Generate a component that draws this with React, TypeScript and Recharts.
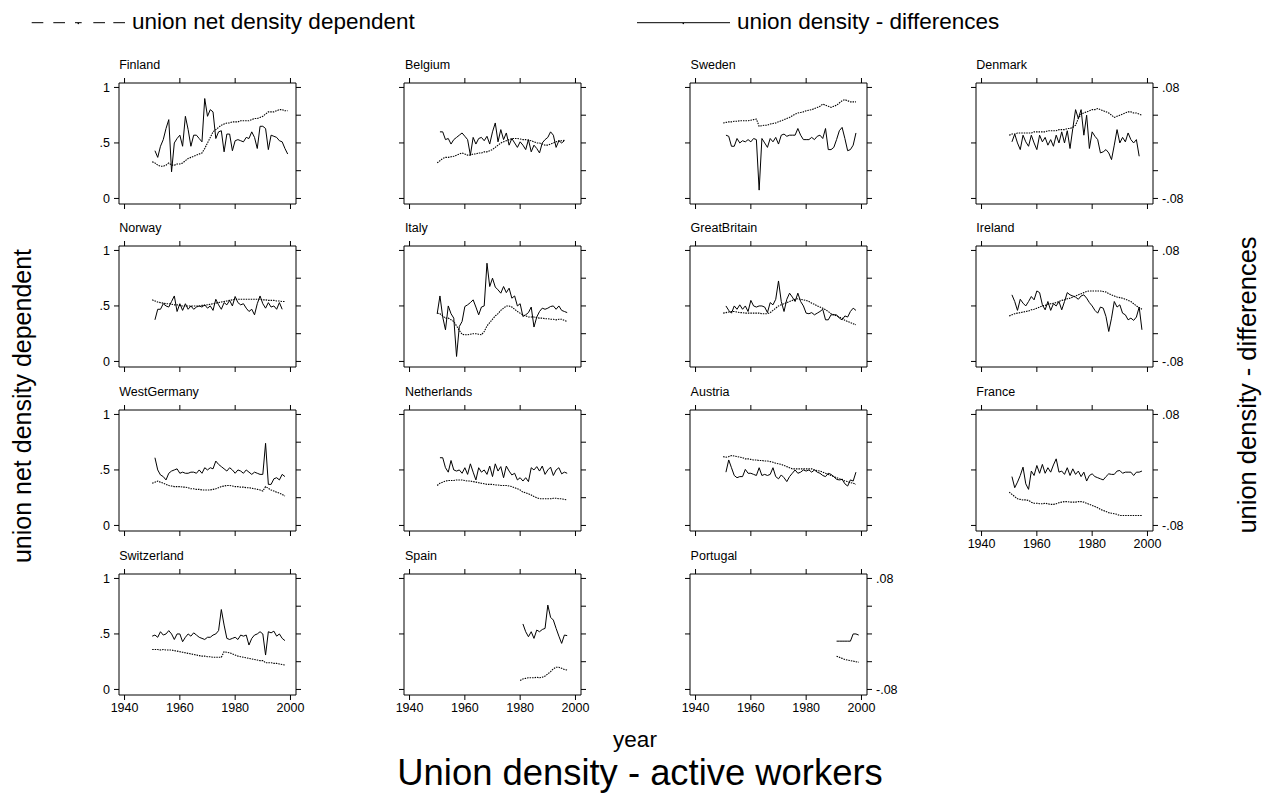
import React from 'react';
import { LineChart, Line, XAxis, YAxis } from 'recharts';

const FONT = '"Liberation Sans", Arial, Helvetica, sans-serif';

const yearTicks = [1940, 1960, 1980, 2000];
const depTicks = [0, 0.5, 1];
const diffTicks = [-0.08, -0.04, 0, 0.04, 0.08];

// union net density dependent (left axis) and union density - differences (right axis)
const finlandDep = [.33,.32,.30,.29,.29,.30,.32,.30,.30,.31,.31,.32,.34,.36,.37,.38,.39,.40,.41,.45,.50,.55,.60,.62,.64,.66,.67,.68,.68,.69,.69,.69,.70,.70,.70,.70,.71,.72,.72,.73,.74,.76,.78,.78,.78,.79,.80,.80,.79,.79];
const finlandDiff = [-.0112,-.0208,-.0048,.0048,.0208,.0336,-.0416,0,.0064,.0112,-.0048,.0384,.0192,-.0048,.0112,.0112,.0064,.0016,.064,.0384,.048,.0448,.0064,.016,.0176,-.0128,.0128,.0128,-.0112,.0032,.0048,.0032,.0016,.008,.0064,.016,.008,-.008,.024,.024,.0208,-.0096,.0112,.0096,.008,.0032,.0016,-.008,-.016];

const belgiumDep = [.32,.34,.36,.37,.37,.375,.38,.39,.40,.41,.40,.39,.39,.40,.40,.41,.41,.42,.42,.43,.44,.46,.48,.50,.51,.52,.53,.54,.54,.54,.535,.53,.53,.525,.52,.51,.50,.50,.49,.48,.48,.49,.50,.51,.52,.52,.525];
const belgiumDiff = [.016,.016,.0048,.0064,-.0016,.0048,.008,.0112,.0144,.0096,.0048,-.0176,.008,-.0016,.0064,.008,.0032,.0096,-.0016,.016,.0288,.0016,.0192,.0048,.0144,-.0032,.0064,0,-.0064,.0016,-.0032,-.0096,.0048,-.0128,-.0032,-.008,-.0144,0,.0048,.008,.016,.0112,-.0064,.0032,0,.0032];

const swedenDep = [.68,.685,.69,.69,.695,.695,.70,.70,.70,.70,.705,.71,.715,.65,.655,.66,.66,.67,.675,.68,.69,.70,.71,.72,.73,.745,.76,.77,.775,.78,.79,.795,.80,.81,.82,.83,.85,.84,.83,.82,.83,.84,.86,.88,.89,.88,.87,.87,.87];
const swedenDiff = [.0112,.0096,-.0048,-.0048,.0064,0,.0032,.0016,.0048,.0016,.0064,.0048,-.068,.0064,0,-.0064,.0064,.0016,.008,-.0016,.0112,.0128,.0096,.0112,.0112,.0112,.0208,.0112,.0048,.0048,.0048,.008,.0048,.0096,.0112,.0064,.0208,-.0096,-.0096,-.0064,.0048,.0176,.0224,.0064,-.0112,-.0096,-.0032,.0144];

const denmarkDep = [.57,.58,.58,.59,.59,.59,.59,.59,.59,.60,.60,.60,.60,.60,.61,.61,.61,.61,.62,.62,.62,.63,.63,.64,.66,.72,.76,.77,.78,.79,.80,.80,.81,.80,.79,.78,.77,.75,.73,.74,.75,.76,.77,.78,.78,.77,.77,.76,.75];
const denmarkDiff = [.0016,.0128,0,-.0096,.0112,.0016,-.0048,.0112,0,-.0096,.0112,.0016,.008,-.0032,.0048,-.0048,.0112,0,.016,0,.0176,-.008,.0208,.048,.0352,.048,.0112,.04,-.008,.016,.0096,.0048,-.0144,-.0128,-.0096,-.0144,-.024,-.0032,.0192,0,.008,.0016,.0144,.0048,0,.0048,-.0192];

const norwayDep = [.555,.545,.535,.53,.525,.52,.52,.515,.51,.51,.505,.50,.50,.50,.50,.50,.50,.50,.505,.505,.51,.515,.52,.525,.53,.535,.54,.545,.55,.555,.56,.56,.56,.56,.56,.56,.56,.56,.56,.56,.555,.555,.55,.55,.55,.545,.545,.54,.54];
const norwayDiff = [-.02,-.0048,-.0048,.0032,0,-.0016,.0064,.0144,-.008,.0032,-.0064,.0032,-.0048,0,-.0048,-.0016,0,-.0016,.0016,-.0032,0,-.0064,.0096,.0016,-.0048,.0048,.0016,.008,0,.0136,.0048,.0016,.0032,-.0032,-.008,-.0048,-.0128,.0032,.0144,.0032,-.0032,.0048,-.0016,0,-.0048,.0048,-.0048];

const italyDep = [.435,.43,.41,.39,.39,.375,.36,.32,.28,.245,.24,.24,.245,.25,.25,.245,.24,.27,.32,.35,.38,.41,.43,.46,.48,.50,.50,.49,.47,.45,.435,.42,.41,.40,.40,.40,.395,.39,.39,.385,.385,.38,.38,.375,.38,.38,.37,.36];
const italyDiff = [-.0112,.0144,-.016,-.0344,0,-.0112,-.0176,-.0728,-.0296,-.0224,-.0008,.0016,.0048,.0088,-.0016,-.0128,-.0016,0,.0616,.028,.04,.0272,.0232,.0184,.028,.0192,.0256,.0112,.0144,0,.0032,-.0152,-.0128,-.0096,-.0016,-.0304,-.016,-.008,-.0032,-.0048,-.0032,-.0008,0,-.0048,0,-.0064,-.008,-.0096];

const britainDep = [.435,.44,.445,.45,.45,.445,.44,.44,.435,.435,.435,.435,.435,.435,.43,.43,.43,.44,.46,.48,.50,.51,.52,.53,.54,.55,.56,.565,.56,.555,.55,.54,.525,.515,.50,.49,.48,.465,.45,.43,.42,.41,.40,.39,.37,.36,.35,.34,.33];
const britainDiff = [0,-.0064,-.0104,0,-.0048,.0016,-.0048,0,-.008,.008,0,-.0016,0,0,-.0016,-.0096,.0048,.0016,.0096,.036,.0064,-.008,.0096,.0184,.0128,.0064,.0184,.0064,0,-.0104,-.0112,-.0096,-.0128,-.0104,-.008,-.0048,-.02,-.02,-.0128,-.0128,-.0128,-.0176,-.02,-.0144,-.016,-.008,-.0032,-.0064];

const irelandDep = [.41,.42,.43,.435,.44,.445,.45,.455,.465,.47,.48,.49,.50,.505,.515,.52,.525,.53,.54,.55,.555,.565,.57,.58,.59,.60,.61,.62,.63,.635,.635,.635,.635,.635,.63,.625,.61,.60,.59,.58,.575,.57,.56,.55,.54,.52,.50,.485,.47];
const irelandDiff = [.016,.0064,-.0064,.0096,.004,0,.0064,.0136,.0088,.0216,.0192,.0016,-.0056,.0064,-.0064,.0032,0,.0064,-.0056,.0064,.0192,.016,.0144,.0128,.0096,.0144,.016,.0112,.0048,0,-.0064,-.0104,-.0016,-.0032,-.0152,-.0368,-.0176,.0064,-.0016,.0016,-.0104,-.0128,-.02,-.0176,-.0208,-.016,-.0016,-.0344];

const germanyDep = [.38,.39,.40,.39,.38,.37,.36,.355,.35,.35,.35,.345,.345,.34,.33,.33,.325,.325,.32,.32,.32,.32,.325,.33,.34,.35,.355,.36,.36,.355,.35,.35,.345,.345,.34,.34,.335,.33,.325,.32,.31,.35,.335,.32,.31,.30,.29,.28,.265];
const germanyDiff = [.0176,0,-.0072,-.0096,-.0144,-.0048,-.0016,0,.0016,-.0048,-.0032,-.0048,-.0048,-.0032,-.0032,-.0048,0,-.0048,.0032,0,.0032,.0016,.0128,.008,.0048,.0016,-.0016,.0032,0,-.0048,0,-.0016,-.0048,0,-.0032,-.0064,-.0032,-.0048,-.0064,-.0064,.0384,-.0208,-.0208,-.0128,-.0112,-.0144,-.0064,-.0096];

const netherlandsDep = [.36,.38,.39,.40,.405,.405,.405,.41,.41,.41,.405,.40,.40,.395,.39,.385,.38,.375,.37,.37,.37,.365,.365,.36,.36,.36,.355,.35,.34,.33,.32,.30,.295,.285,.275,.26,.25,.24,.24,.24,.24,.24,.245,.245,.24,.24,.235,.23];
const netherlandsDiff = [.0176,.0176,.0032,-.0032,.0136,0,-.0016,0,-.0048,.0032,-.0064,.0088,-.0032,-.0144,.0032,-.0032,0,-.0064,.0056,-.0096,.0088,-.0016,.0048,-.0112,.0056,-.0016,-.0072,-.0048,-.0144,-.0112,-.016,-.0112,-.0168,.0032,0,.0048,-.0016,.0056,-.0064,0,.004,-.008,0,.0032,-.0056,-.0032,-.0048];

const austriaDep = [.62,.615,.62,.63,.625,.62,.615,.61,.60,.60,.595,.59,.59,.585,.585,.58,.58,.575,.57,.56,.555,.55,.54,.53,.52,.51,.51,.51,.51,.51,.51,.51,.51,.50,.495,.49,.48,.47,.46,.45,.44,.43,.42,.415,.40,.395,.385,.38,.37];
const austriaDiff = [-.0032,.0144,.0032,-.008,-.0112,-.0096,-.0096,.0008,-.0048,-.0048,-.0064,-.008,.0032,-.008,-.0064,-.008,-.0064,.0032,-.0096,-.0128,-.0072,-.0112,-.0168,-.0096,-.0048,0,-.0048,-.0032,0,-.0016,0,-.0032,0,-.0032,-.0048,-.008,-.0096,-.0048,-.0064,-.0096,-.0136,-.0144,-.0136,-.02,-.0232,-.0144,-.016,-.0032];

const franceDep = [.30,.28,.26,.24,.235,.23,.23,.225,.21,.20,.20,.195,.195,.20,.195,.19,.19,.195,.205,.21,.215,.215,.21,.21,.21,.215,.215,.21,.20,.19,.18,.17,.16,.145,.135,.125,.115,.11,.105,.10,.09,.09,.09,.09,.09,.09,.09,.09,.09];
const franceDiff = [-.0096,-.0256,-.0176,-.008,.004,-.02,-.028,-.0016,-.008,.0064,-.0048,.008,-.0048,.0032,-.0032,.0072,.016,-.0032,-.0016,-.0064,.0032,-.008,.0016,-.0064,-.0016,-.0096,-.0032,-.016,-.008,-.0056,-.0096,-.0112,-.0128,-.0144,-.0096,-.0056,-.0064,-.0064,-.0016,-.0008,-.0048,-.0032,-.0032,-.0032,-.008,-.0032,-.0032,-.0016];

const switzerlandDep = [.36,.36,.36,.355,.36,.355,.355,.355,.35,.345,.34,.335,.33,.325,.32,.315,.31,.305,.30,.30,.295,.295,.29,.29,.29,.29,.34,.335,.33,.32,.31,.30,.295,.29,.285,.28,.275,.27,.265,.26,.26,.24,.24,.24,.235,.235,.23,.225,.22];
const switzerlandDiff = [-.0032,-.0016,-.0048,.0032,-.0016,0,.0048,0,-.008,0,0,-.0112,-.0048,0,-.0032,.0016,-.0016,-.0048,-.0064,-.008,-.0048,-.0048,-.0016,0,.0048,.0352,.0128,-.0064,-.008,-.0064,-.0048,-.008,-.0016,-.0032,-.0016,-.016,-.0064,-.0016,0,.0032,0,-.0304,.0032,.0016,.004,-.0032,0,-.0064,-.0096];

const spainDep = [.08,.095,.10,.105,.105,.105,.11,.105,.11,.12,.14,.16,.185,.20,.20,.19,.18,.175];
const spainDiff = [.0144,.0032,-.004,.0032,-.0064,.0056,.0032,.0064,.008,.0416,.024,.02,.008,-.0032,-.0136,-.0016,-.0024];

const portugalDep = [.30,.29,.28,.27,.265,.26,.255,.25,.245];
const portugalDiff = [-.0104,-.0104,-.0104,-.0104,-.0104,-.0104,0,0,-.0016];

const panels = [
  { name: 'Finland', depStart: 1950, dep: finlandDep, diffStart: 1951, diff: finlandDiff },
  { name: 'Belgium', depStart: 1950, dep: belgiumDep, diffStart: 1951, diff: belgiumDiff },
  { name: 'Sweden', depStart: 1950, dep: swedenDep, diffStart: 1951, diff: swedenDiff },
  { name: 'Denmark', depStart: 1950, dep: denmarkDep, diffStart: 1951, diff: denmarkDiff },
  { name: 'Norway', depStart: 1950, dep: norwayDep, diffStart: 1951, diff: norwayDiff },
  { name: 'Italy', depStart: 1950, dep: italyDep, diffStart: 1950, diff: italyDiff },
  { name: 'GreatBritain', depStart: 1950, dep: britainDep, diffStart: 1951, diff: britainDiff },
  { name: 'Ireland', depStart: 1950, dep: irelandDep, diffStart: 1951, diff: irelandDiff },
  { name: 'WestGermany', depStart: 1950, dep: germanyDep, diffStart: 1951, diff: germanyDiff },
  { name: 'Netherlands', depStart: 1950, dep: netherlandsDep, diffStart: 1951, diff: netherlandsDiff },
  { name: 'Austria', depStart: 1950, dep: austriaDep, diffStart: 1951, diff: austriaDiff },
  { name: 'France', depStart: 1950, dep: franceDep, diffStart: 1951, diff: franceDiff },
  { name: 'Switzerland', depStart: 1950, dep: switzerlandDep, diffStart: 1950, diff: switzerlandDiff },
  { name: 'Spain', depStart: 1980, dep: spainDep, diffStart: 1981, diff: spainDiff },
  { name: 'Portugal', depStart: 1991, dep: portugalDep, diffStart: 1991, diff: portugalDiff },
];

type PanelDef = typeof panels[number];

function buildRows(p: PanelDef) {
  const rows: Record<number, any> = {};
  p.dep.forEach((v, i) => {
    const year = p.depStart + i;
    rows[year] = { ...(rows[year] || { year }), dep: v };
  });
  p.diff.forEach((v, i) => {
    const year = p.diffStart + i;
    rows[year] = { ...(rows[year] || { year }), diff: v };
  });
  return Object.values(rows).sort((a: any, b: any) => a.year - b.year);
}

const tickStyle = { fontSize: 12.5, fill: '#000', fontFamily: FONT };
const black = { stroke: '#000', strokeWidth: 1 };

function Panel({ p, index }: { p: PanelDef; index: number }) {
  const row = Math.floor(index / 4);
  const col = index % 4;
  const boxLeft = 118.7 + col * 285.7;
  const boxTop = 82.7 + row * 163.7;
  const showLeft = col === 0;
  const showBottom = index + 4 >= panels.length;
  const showRight = col === 3 || index === panels.length - 1;
  const data = buildRows(p);

  return (
    <>
      <div
        style={{
          position: 'absolute',
          left: boxLeft + 0.5,
          top: boxTop - 25,
          fontFamily: FONT,
          fontSize: 12.5,
          lineHeight: '14px',
          whiteSpace: 'nowrap',
          color: '#000',
        }}
      >
        {p.name}
      </div>
      <div style={{ position: 'absolute', left: boxLeft - 30, top: boxTop - 20 }}>
        <LineChart width={241} height={163} data={data} margin={{ top: 14, right: 0, bottom: 0, left: 0 }}>
          <XAxis
            xAxisId="b"
            dataKey="year"
            type="number"
            domain={[1938, 2002]}
            allowDataOverflow
            ticks={yearTicks}
            interval={0}
            height={22}
            tickSize={5}
            tickMargin={3}
            axisLine={black}
            tickLine={black}
            tick={tickStyle}
            tickFormatter={(v: number) => (showBottom ? String(v) : '')}
          />
          <XAxis
            xAxisId="t"
            orientation="top"
            dataKey="year"
            type="number"
            domain={[1938, 2002]}
            allowDataOverflow
            ticks={yearTicks}
            interval={0}
            height={6}
            tickSize={5}
            axisLine={black}
            tickLine={black}
            tick={tickStyle}
            tickFormatter={() => ''}
          />
          <YAxis
            yAxisId="l"
            type="number"
            domain={[-0.05, 1.04]}
            allowDataOverflow
            ticks={depTicks}
            interval={0}
            width={30}
            tickSize={5}
            tickMargin={4}
            axisLine={black}
            tickLine={black}
            tick={tickStyle}
            tickFormatter={(v: number) => (showLeft ? (v === 0 ? '0' : v === 1 ? '1' : '.5') : '')}
          />
          <YAxis
            yAxisId="r"
            orientation="right"
            type="number"
            domain={[-0.088, 0.0864]}
            allowDataOverflow
            ticks={diffTicks}
            interval={0}
            width={34}
            tickSize={5}
            tickMargin={4}
            axisLine={black}
            tickLine={black}
            tick={tickStyle}
            tickFormatter={(v: number) =>
              showRight && Math.abs(v) > 0.07 ? (v > 0 ? '.08' : '-.08') : ''
            }
          />
          <Line
            xAxisId="b"
            yAxisId="l"
            type="linear"
            dataKey="dep"
            stroke="#000"
            strokeWidth={1.1}
            strokeDasharray="1.5 1"
            dot={false}
            activeDot={false}
            isAnimationActive={false}
          />
          <Line
            xAxisId="b"
            yAxisId="r"
            type="linear"
            dataKey="diff"
            stroke="#000"
            strokeWidth={1}
            dot={false}
            activeDot={false}
            isAnimationActive={false}
          />
        </LineChart>
      </div>
    </>
  );
}

export default function App() {
  return (
    <div style={{ position: 'absolute', left: 0, top: 0, width: 1270, height: 812, background: '#fff' }}>
      {panels.map((p, i) => (
        <Panel key={p.name} p={p} index={i} />
      ))}
      <svg
        width={1270}
        height={812}
        style={{ position: 'absolute', left: 0, top: 0, pointerEvents: 'none' }}
        fontFamily={FONT}
      >
        {/* legend */}
        <line
          x1={31.7}
          y1={22.7}
          x2={125}
          y2={22.7}
          stroke="#000"
          strokeWidth={1}
          strokeDasharray="11.6 10 11.7 10 6.7 11.6 11.7 8.3 11.7"
        />
        <circle cx={78.3} cy={23.5} r={0.8} fill="#000" />
        <text x={132} y={28.5} fontSize={22.5} fill="#000">union net density dependent</text>
        <line x1={637} y1={22.7} x2={730} y2={22.7} stroke="#000" strokeWidth={1} />
        <circle cx={683.3} cy={23.5} r={0.8} fill="#000" />
        <text x={737} y={28.5} fontSize={22.5} fill="#000">union density - differences</text>

        {/* axis titles */}
        <text transform="translate(31, 406) rotate(-90)" textAnchor="middle" fontSize={25} fill="#000">
          union net density dependent
        </text>
        <text transform="translate(1256, 385) rotate(-90)" textAnchor="middle" fontSize={25.5} fill="#000">
          union density - differences
        </text>

        <text x={635} y={747} textAnchor="middle" fontSize={22.5} fill="#000">year</text>
        <text x={640} y={785} textAnchor="middle" fontSize={36.4} fill="#000">Union density - active workers</text>
      </svg>
    </div>
  );
}
